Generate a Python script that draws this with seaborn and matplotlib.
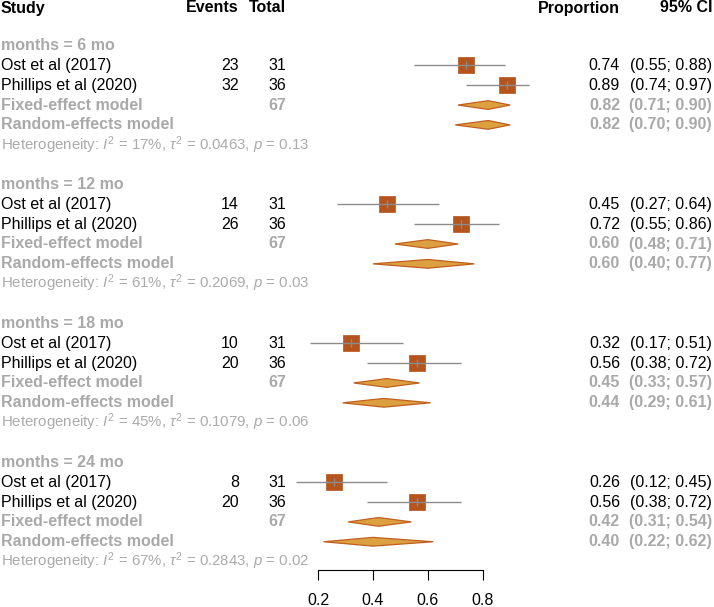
import numpy as np
import pandas as pd
import matplotlib.pyplot as plt
from matplotlib.patches import Polygon
import seaborn as sns

# --- data ---
groups = ["6 mo", "12 mo", "18 mo", "24 mo"]
studies = ["Ost et al (2017)", "Phillips et al (2020)"]
totals = [31, 36]
events = [[23, 32], [14, 26], [10, 20], [8, 20]]
prop = [[0.74, 0.89], [0.45, 0.72], [0.32, 0.56], [0.26, 0.56]]
lower = [[0.55, 0.74], [0.27, 0.55], [0.17, 0.38], [0.12, 0.38]]
upper = [[0.88, 0.97], [0.64, 0.86], [0.51, 0.72], [0.45, 0.72]]
fe_est = [0.82, 0.60, 0.45, 0.42]
fe_lo = [0.71, 0.48, 0.33, 0.31]
fe_hi = [0.90, 0.71, 0.57, 0.54]
re_est = [0.82, 0.60, 0.44, 0.40]
re_lo = [0.70, 0.40, 0.29, 0.22]
re_hi = [0.90, 0.77, 0.61, 0.62]
i2 = [17, 61, 45, 67]
tau2 = ["0.0463", "0.2069", "0.1079", "0.2843"]
pval = ["0.13", "0.03", "0.06", "0.02"]
xticks = [0.2, 0.4, 0.6, 0.8]

SQ = "#B5541C"
DIA_FILL = "#DDA040"
DIA_EDGE = "#C0601E"
GRAY = "#A9A9A9"
LINE = "#8C8C8C"
FS = 11.5

sns.set_theme(style="white")
plt.rcParams["font.family"] = ["Liberation Sans", "DejaVu Sans"]
plt.rcParams["mathtext.fontset"] = "custom"
plt.rcParams["mathtext.rm"] = "Liberation Sans"
plt.rcParams["mathtext.it"] = "Liberation Sans:italic"

# row layout: header row 0, each group takes 7 rows starting at row 2
rows = []
for g, grp in enumerate(groups):
    base = 2 + 7 * g
    for s, name in enumerate(studies):
        rows.append({"group": grp, "study": name, "row": base + 1 + s,
                     "events": events[g][s], "total": totals[s],
                     "prop": prop[g][s], "lo": lower[g][s], "hi": upper[g][s]})
df = pd.DataFrame(rows)

fig = plt.figure(figsize=(7.14, 6.07), dpi=100)
ax = fig.add_axes([0, 0, 1, 1])
px_per_unit = 274.5
ax.set_xlim(0.2 - 318 / px_per_unit, 0.2 + (714 - 318) / px_per_unit)
row_h = 19.85
ax.set_ylim((607 - 5.8) / row_h, -5.8 / row_h)

# study CIs and squares
ax.hlines(df["row"], df["lo"], df["hi"], color=LINE, lw=1.0, zorder=3)
sns.scatterplot(data=df, x="prop", y="row", marker="s", s=135, color=SQ,
                edgecolor=SQ, linewidth=0.5, zorder=2, ax=ax, legend=False)
ax.scatter(df["prop"], df["row"], marker="|", s=30, color=LINE, lw=1.0, zorder=4)

dh = 0.22
for g in range(len(groups)):
    base = 2 + 7 * g
    for r, (e, lo, hi) in zip([base + 3, base + 4],
                              [(fe_est[g], fe_lo[g], fe_hi[g]),
                               (re_est[g], re_lo[g], re_hi[g])]):
        ax.add_patch(Polygon([(lo, r), (e, r - dh), (hi, r), (e, r + dh)],
                             closed=True, facecolor=DIA_FILL, edgecolor=DIA_EDGE,
                             lw=0.9, zorder=3))

# text columns (x in axes fraction, y in rows)
tr = ax.get_yaxis_transform()
W = 714.0


def put(px, row, s, ha="left", color="black", weight="normal", size=FS):
    ax.text(px / W, row, s, transform=tr, ha=ha, va="center", color=color,
            fontweight=weight, fontsize=size)


hdr = (8.0 - 5.8) / row_h
put(1, hdr, "Study", weight="bold")
put(239, hdr, "Events", ha="right", weight="bold")
put(286, hdr, "Total", ha="right", weight="bold")
put(620, hdr, "Proportion", ha="right", weight="bold")
put(712, hdr, "95% CI", ha="right", weight="bold")

for g, grp in enumerate(groups):
    base = 2 + 7 * g
    put(1, base, f"months = {grp}", color=GRAY, weight="bold")
    sub = df[df["group"] == grp]
    for _, rw in sub.iterrows():
        put(1, rw["row"], rw["study"])
        put(239, rw["row"], f"{rw['events']}", ha="right")
        put(286, rw["row"], f"{rw['total']}", ha="right")
        put(620, rw["row"], f"{rw['prop']:.2f}", ha="right")
        put(712, rw["row"], f"({rw['lo']:.2f}; {rw['hi']:.2f})", ha="right")
    put(1, base + 3, "Fixed-effect model", color=GRAY, weight="bold")
    put(286, base + 3, f"{sum(totals)}", ha="right", color=GRAY, weight="bold")
    put(620, base + 3, f"{fe_est[g]:.2f}", ha="right", color=GRAY, weight="bold")
    put(712, base + 3, f"({fe_lo[g]:.2f}; {fe_hi[g]:.2f})", ha="right",
        color=GRAY, weight="bold")
    put(1, base + 4, "Random-effects model", color=GRAY, weight="bold")
    put(620, base + 4, f"{re_est[g]:.2f}", ha="right", color=GRAY, weight="bold")
    put(712, base + 4, f"({re_lo[g]:.2f}; {re_hi[g]:.2f})", ha="right",
        color=GRAY, weight="bold")
    put(1, base + 5,
        rf"Heterogeneity: $I^2$ = {i2[g]}%, $\tau^2$ = {tau2[g]}, $p$ = {pval[g]}",
        color="#ABABAB", size=10.8)

# x axis
for side in ["top", "right", "left"]:
    ax.spines[side].set_visible(False)
ax.spines["bottom"].set_position(("data", (570 - 5.8) / row_h))
ax.spines["bottom"].set_bounds(xticks[0], xticks[-1])
ax.spines["bottom"].set_color("black")
ax.spines["bottom"].set_linewidth(0.8)
ax.set_xticks(xticks)
ax.set_xticklabels([f"{t:.1f}" for t in xticks])
ax.tick_params(axis="x", bottom=True, direction="out", length=7.5, width=0.8,
               pad=9, labelsize=FS, colors="black")
ax.set_yticks([])
ax.set_xlabel("")
ax.set_ylabel("")

fig.savefig("out.png", dpi=100)
